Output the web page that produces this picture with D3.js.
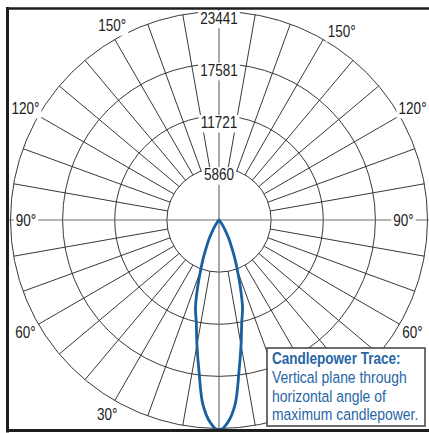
<!DOCTYPE html>
<html>
<head>
<meta charset="utf-8">
<script src="https://cdn.jsdelivr.net/npm/d3@7"></script>
<style>
body { margin: 0; background: #fff; }
svg { display: block; }
text { font-family: "Liberation Sans", Arial, sans-serif; }
</style>
</head>
<body>
<div id="chart"></div>
<script>
// ring values (candela)
var ringValues = [5860, 11721, 17581, 23441];
// angle labels (degrees from nadir); the right 30 sits under the legend
var angleLabels = [30, 60, 90, 120, 150];
// candlepower trace
var traceAngles = [0, 2.5, 5, 7.5, 10, 12.5, 15, 17.5, 20, 22.5, 25, 27.5, 30, 35, 40, 45];
var traceCandela = [23690, 22770, 20800, 17200, 14280, 11800, 10230, 8040, 6070, 4610, 3320, 2470, 1630, 670, 220, 60];
var legendTitle = "Candlepower Trace:";
var legendLines = ["Vertical plane through", "horizontal angle of", "maximum candlepower."];

var WIDTH = 429, HEIGHT = 433;
var cx = 219, cy = 220, R = 208.5;
var NARROW = 0.82; // condensed look
var frame = { left: 7.5, top: 8.5, bottom: 430.5 };

var svg = d3.select("#chart").append("svg")
	.attr("width", WIDTH)
	.attr("height", HEIGHT);

var rScale = d3.scaleLinear().domain([0, d3.max(ringValues)]).range([0, R]);

// theta from nadir, positive to the right
function polar(theta, r) {
	var a = theta * Math.PI / 180;
	return [cx + r * Math.sin(a), cy + r * Math.cos(a)];
}

// narrow text placed at x,y
function narrowText(g, x, y, txt, anchor, size) {
	return g.append("text")
		.attr("transform", `translate(${x},${y}) scale(${NARROW},1)`)
		.attr("text-anchor", anchor || "middle")
		.style("font-size", (size || 16.5) + "px")
		.text(txt);
}

var grid = svg.append("g");

// spokes (10 deg), outside the first ring only
var spokes = [];
d3.range(10, 180, 10).filter(d => d !== 90).forEach(d => { spokes.push(d); spokes.push(-d); });
grid.selectAll(".spoke")
	.data(spokes)
	.join("line")
	.attr("class", "spoke")
	.attr("x1", d => polar(d, rScale(ringValues[0]))[0])
	.attr("y1", d => polar(d, rScale(ringValues[0]))[1])
	.attr("x2", d => polar(d, R)[0])
	.attr("y2", d => polar(d, R)[1])
	.attr("stroke", "#222")
	.attr("stroke-width", 0.9);

grid.selectAll(".ring")
	.data(ringValues)
	.join("circle")
	.attr("class", "ring")
	.attr("cx", cx)
	.attr("cy", cy)
	.attr("r", d => rScale(d))
	.attr("fill", "none")
	.attr("stroke", "#222")
	.attr("stroke-width", 0.9);

// main axes
grid.append("line")
	.attr("x1", frame.left).attr("x2", WIDTH)
	.attr("y1", cy).attr("y2", cy)
	.attr("stroke", "#6e6e6e").attr("stroke-width", 1.2);
grid.append("line")
	.attr("x1", cx).attr("x2", cx)
	.attr("y1", frame.top).attr("y2", frame.bottom)
	.attr("stroke", "#6e6e6e").attr("stroke-width", 1.2);

// label with white backing
function addLabel(g, x, y, txt) {
	var t = narrowText(g, x, y, txt, "middle").attr("fill", "#222");
	var b = t.node().getBBox();
	var w = b.width * NARROW;
	g.insert("rect", "text")
		.attr("x", x - w / 2 - 2)
		.attr("y", y + b.y + 2)
		.attr("width", w + 4)
		.attr("height", b.height - 1)
		.attr("fill", "#fff");
}

var labels = svg.append("g");
ringValues.forEach(v => {
	addLabel(labels.append("g"), cx, cy - rScale(v) + 12.5, v);
});

// small nudges so the degree labels sit like the original
var labelNudge = { "-150": [5, -1], "150": [11, 5], "-90": [30.5, 0], "90": [-39, 0] };
angleLabels.forEach(a => {
	[-a, a].forEach(s => {
		if (s === 30) return; // hidden behind legend in the original
		var p = polar(s, R + 15);
		var n = labelNudge[s] || [0, 0];
		addLabel(labels.append("g"), p[0] + n[0], p[1] + n[1] + 6, a + "°");
	});
});

// candlepower trace
var tracePts = [];
traceAngles.forEach((a, i) => tracePts.push([a, traceCandela[i]]));
tracePts.push([90, 0]);
for (var i = traceAngles.length - 1; i > 0; i--) tracePts.push([-traceAngles[i], traceCandela[i]]);

var radial = d3.lineRadial()
	.angle(d => Math.PI - d[0] * Math.PI / 180)
	.radius(d => rScale(d[1]))
	.curve(d3.curveCatmullRomClosed.alpha(0.5));

svg.append("path")
	.attr("transform", `translate(${cx},${cy})`)
	.attr("d", radial(tracePts))
	.attr("fill", "none")
	.attr("stroke", "#18609f")
	.attr("stroke-width", 2.8)
	.attr("stroke-linejoin", "round");

// legend box
var legend = svg.append("g").attr("transform", "translate(267,348)");
legend.append("rect")
	.attr("width", 158)
	.attr("height", 78)
	.attr("fill", "#fff")
	.attr("stroke", "#4a4a4a")
	.attr("stroke-width", 1.6);
narrowText(legend, 5, 16, legendTitle, "start", 16.5)
	.style("font-weight", "bold")
	.attr("fill", "#2766a6");
legendLines.forEach((d, i) => {
	narrowText(legend, 5, 35 + i * 18.6, d, "start", 17).attr("fill", "#2766a6");
});

// frame (left, top, bottom)
var fr = svg.append("g").attr("stroke", "#1e1e1e");
fr.append("line").attr("x1", frame.left).attr("x2", frame.left).attr("y1", 7).attr("y2", 432.5).attr("stroke-width", 3);
fr.append("line").attr("x1", 6).attr("x2", WIDTH).attr("y1", frame.top).attr("y2", frame.top).attr("stroke-width", 2.5);
fr.append("line").attr("x1", 6).attr("x2", WIDTH).attr("y1", frame.bottom).attr("y2", frame.bottom).attr("stroke-width", 3.2);
</script>
</body>
</html>
